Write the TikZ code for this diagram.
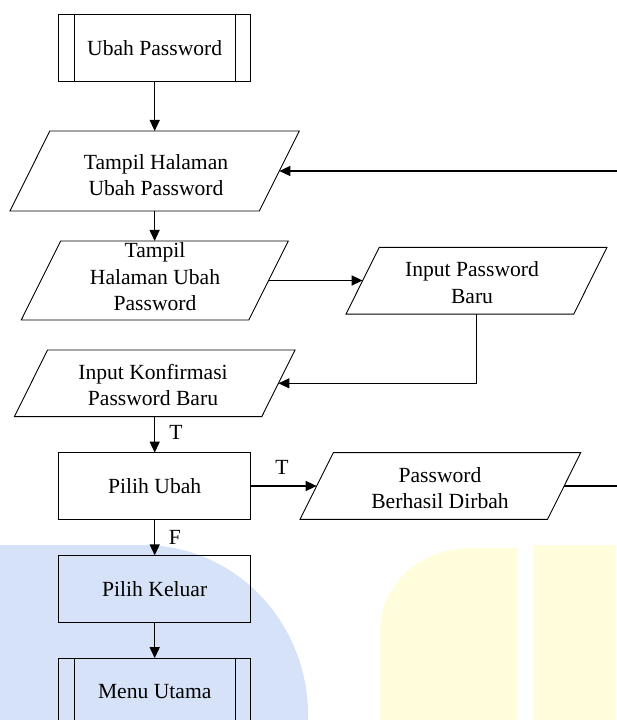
\documentclass[tikz,border=0pt]{standalone}
\usepackage{fontspec}
\setmainfont{Liberation Serif}
\usetikzlibrary{shapes.geometric,arrows.meta}
\definecolor{wmblue}{RGB}{214,226,248}
\definecolor{wmyellow}{RGB}{255,253,220}
\begin{document}
\begin{tikzpicture}[x=1pt,y=-1pt,
  every node/.style={font=\fontsize{21.6}{26.5}\selectfont},
  proc/.style={draw, line width=0.9pt, minimum width=192pt, minimum height=66.7pt, inner sep=0pt, outer sep=0pt},
  io/.style={draw, line width=0.9pt, trapezium, trapezium left angle=63.5, trapezium right angle=116.5,
    trapezium stretches body, inner sep=0pt, outer sep=0pt},
  txt/.style={align=center, inner sep=0pt},
  lbl/.style={inner sep=0pt},
  arr/.style={line width=1.3pt, -{Triangle[length=11pt,width=10pt]}},
  conn/.style={line width=1.3pt}]
\useasboundingbox (0,0) rectangle (616,720);
% watermark
\fill[wmblue] (0,545) -- (143,545) arc[start angle=-90,end angle=0,x radius=165,y radius=170] -- (308,720) -- (0,720) -- cycle;
\fill[wmyellow] (380,720) -- (380,630) arc[start angle=180,end angle=270,x radius=90,y radius=82] -- (517,548) -- (517,720) -- cycle;
\fill[wmyellow] (533,545) rectangle (616,720);
% nodes
\node[proc] (up) at (154.7,47.7) {Ubah Password};
\draw[line width=0.9pt] ([xshift=15.3pt]up.north west) -- ([xshift=15.3pt]up.south west);
\draw[line width=0.9pt] ([xshift=-15.3pt]up.north east) -- ([xshift=-15.3pt]up.south east);
\node[io, minimum width=289.3pt] (p1) at (154.6,171) {\rule{0pt}{80pt}};
\node[txt] (p1t) at (156,175) {Tampil Halaman\\Ubah Password};
\node[io, minimum width=267pt] (p2) at (154.75,280.5) {\rule{0pt}{79pt}};
\node[txt] (p2t) at (155,277) {Tampil\\Halaman Ubah\\Password};
\node[io, minimum width=261pt] (ip) at (476.5,280.7) {\rule{0pt}{66.7pt}};
\node[txt] (ipt) at (472,282.5) {Input Password\\Baru};
\node[io, minimum width=280.7pt] (p3) at (154.7,383.3) {\rule{0pt}{66.7pt}};
\node[txt] (p3t) at (153,385) {Input Konfirmasi\\Password Baru};
\node[proc] (pu) at (154.7,486) {Pilih Ubah};
\node[io, minimum width=280.7pt] (p4) at (440.4,486) {\rule{0pt}{66.7pt}};
\node[txt] (p4t) at (440,488.3) {Password\\Berhasil Dirbah};
\node[proc] (pk) at (154.7,588.7) {Pilih Keluar};
\node[proc] (mu) at (154.7,691.5) {Menu Utama};
\draw[line width=0.9pt] ([xshift=15.3pt]mu.north west) -- ([xshift=15.3pt]mu.south west);
\draw[line width=0.9pt] ([xshift=-15.3pt]mu.north east) -- ([xshift=-15.3pt]mu.south east);
\coordinate (loopx) at (620,0);
% labels
\node[lbl] (lt1) at (176,432) {T};
\node[lbl] (lt2) at (282,467) {T};
\node[lbl] (lf) at (175,537) {F};
% connectors
\draw[arr] (up.south) -- (up.south |- p1.north);
\draw[arr] (p1.south) -- (p1.south |- p2.north);
\draw[arr] (p2.east) -- (p2.east -| ip.west);
\draw[arr] (ip.south) |- (p3.east);
\draw[arr] (p3.south) -- (p3.south |- pu.north);
\draw[arr] (pu.east) -- (pu.east -| p4.west);
\draw[arr] (p4.east) -- (p4.east -| loopx) |- (p1.east);
\draw[arr] (pu.south) -- (pk.north);
\draw[arr] (pk.south) -- (mu.north);
\end{tikzpicture}
\end{document}
